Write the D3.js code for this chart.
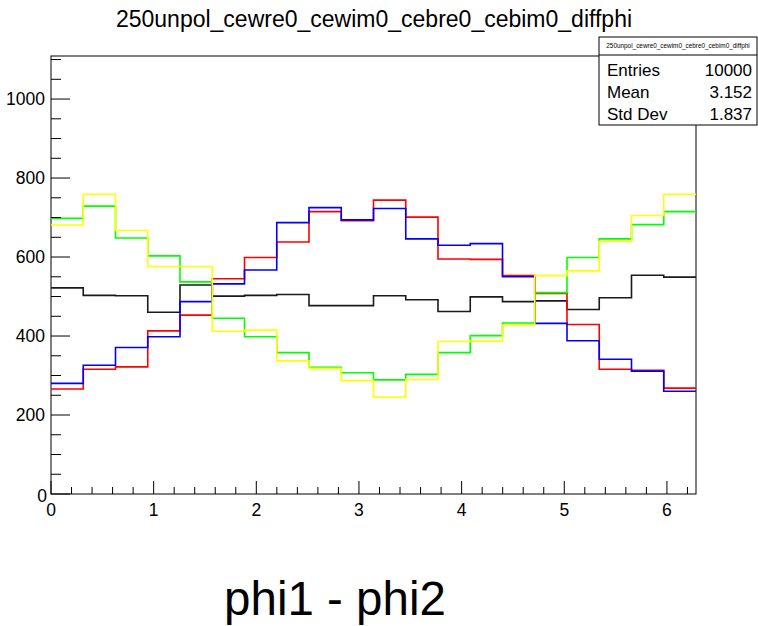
<!DOCTYPE html>
<html><head><meta charset="utf-8">
<script src="https://cdn.jsdelivr.net/npm/d3@7"></script>
<style>body{margin:0;background:#fff}svg{display:block;font-family:"Liberation Sans",Arial,sans-serif}</style>
</head><body><svg id="c" width="758" height="626"></svg>
<script>
const title = "250unpol_cewre0_cewim0_cebre0_cebim0_diffphi";
const xTitle = "phi1 - phi2";
const nBins = 20;
const xMax = 2 * Math.PI;
const yMax = 1109;
const xTicks = [0, 1, 2, 3, 4, 5, 6];
const yTicks = [0, 200, 400, 600, 800, 1000];
const blackVals  = [522,503,502,460,529,501,503,505,477,477,502,492,462,499,487,489,467,497,554,549];
const redVals    = [266,316,322,413,453,545,599,638,715,692,744,701,595,594,553,508,429,316,313,268];
const greenVals  = [698,729,648,603,537,445,398,358,321,307,289,303,358,401,433,510,599,646,682,715];
const blueVals   = [280,326,371,398,487,532,567,687,725,694,723,646,630,634,550,432,388,341,311,260];
const yellowVals = [681,759,667,576,576,412,415,337,318,287,245,290,386,387,428,553,565,640,705,759];
const seriesColors = ["#1a1a1a", "#ff0000", "#00ff00", "#0000ff", "#ffff00"];
const statLabels = ["Entries", "Mean", "Std Dev"];
const statValues = ["10000", "3.152", "1.837"];

const svg = d3.select("#c");
const L = 51, R = 696, T = 56, B = 494;
const x = d3.scaleLinear().domain([0, xMax]).range([L, R]);
const y = d3.scaleLinear().domain([0, yMax]).range([B, T]);

// frame
svg.append("rect").attr("x", L).attr("y", T).attr("width", R - L).attr("height", B - T)
  .attr("fill", "none").attr("stroke", "#000").attr("stroke-width", 1);

// histograms
const bw = xMax / nBins;
const line = d3.line().curve(d3.curveStepAfter).x(d => x(d[0])).y(d => y(d[1]));
[blackVals, redVals, greenVals, blueVals, yellowVals].forEach((vals, k) => {
  const pts = vals.map((v, i) => [i * bw, v]);
  pts.push([xMax, vals[vals.length - 1]]);
  svg.append("path").attr("d", line(pts)).attr("fill", "none")
    .attr("stroke", seriesColors[k]).attr("stroke-width", 1.6);
});

// x axis ticks
const xMinor = d3.range(0, xMax, 0.2);
svg.append("g").selectAll("line").data(xMinor).join("line")
  .attr("x1", d => x(d)).attr("x2", d => x(d))
  .attr("y1", B).attr("y2", d => (Math.abs(d - Math.round(d)) < 1e-6) ? B - 13 : B - 7)
  .attr("stroke", "#000").attr("stroke-width", 1);
svg.append("g").selectAll("text").data(xTicks).join("text")
  .attr("x", d => x(d)).attr("y", 516).attr("text-anchor", "middle")
  .attr("font-size", 17.5).text(d => d);

// y axis ticks
const yMinor = d3.range(0, yMax, 50);
svg.append("g").selectAll("line").data(yMinor).join("line")
  .attr("x1", L).attr("x2", d => d % 200 === 0 ? L + 19 : L + 10)
  .attr("y1", d => y(d)).attr("y2", d => y(d))
  .attr("stroke", "#000").attr("stroke-width", 1);
svg.append("g").selectAll("text").data(yTicks).join("text")
  .attr("x", d => d === 0 ? 47 : 45).attr("y", d => y(d) + 6 + (d === 0 ? 2 : 0))
  .attr("text-anchor", "end").attr("font-size", 17.5).text(d => d);

// title
svg.append("text").attr("x", 374).attr("y", 27).attr("text-anchor", "middle")
  .attr("font-size", 23).text(title);

// x axis title
svg.append("text").attr("x", 335).attr("y", 615).attr("text-anchor", "middle")
  .attr("font-size", 47.5).text(xTitle);

// stats box
const sx = 599, sy = 37, sw = 158, sh = 88, sep = 55;
svg.append("rect").attr("x", sx).attr("y", sy).attr("width", sw).attr("height", sh)
  .attr("fill", "#fff").attr("stroke", "#000").attr("stroke-width", 1);
svg.append("line").attr("x1", sx).attr("x2", sx + sw).attr("y1", sep).attr("y2", sep)
  .attr("stroke", "#000").attr("stroke-width", 1);
svg.append("text").attr("x", sx + sw / 2).attr("y", 48).attr("text-anchor", "middle")
  .attr("font-size", 6.4).text(title);
statLabels.forEach((s, i) => {
  const yy = 76 + i * 22;
  svg.append("text").attr("x", 607).attr("y", yy).attr("font-size", 17).text(s);
  svg.append("text").attr("x", 752).attr("y", yy).attr("text-anchor", "end")
    .attr("font-size", 17).text(statValues[i]);
});
</script></body></html>
